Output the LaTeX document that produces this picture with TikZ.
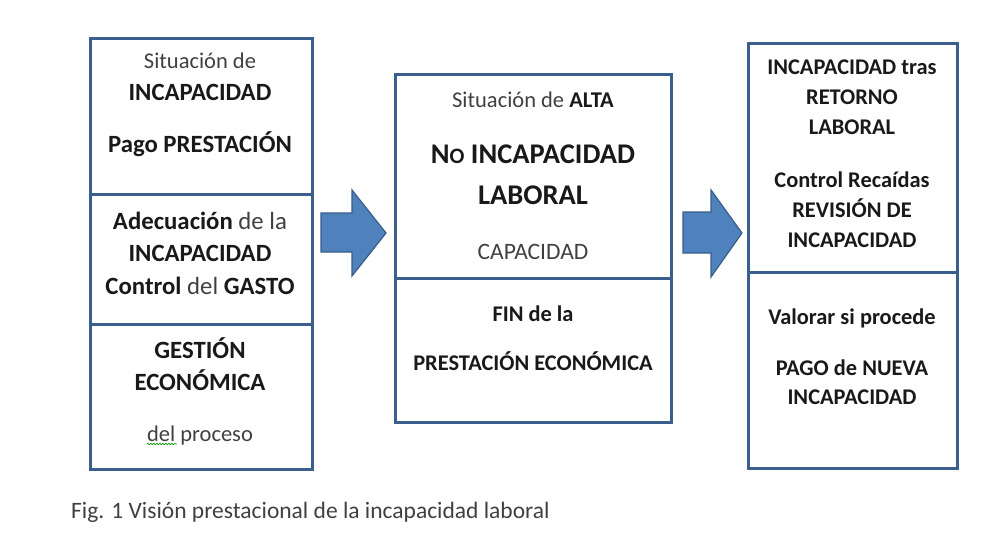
\documentclass[tikz,border=0pt]{standalone}
\usepackage{fontspec}
\setmainfont{Carlito}
\usetikzlibrary{decorations.pathmorphing}
\definecolor{boxblue}{RGB}{58,95,140}
\definecolor{arrowfill}{RGB}{79,129,189}
\definecolor{arrowline}{RGB}{56,93,138}
\definecolor{txtgray}{RGB}{64,64,64}
\newcommand{\rg}[1]{{\mdseries\color{txtgray}#1}}
\tikzset{
  cell/.style={draw=boxblue, line width=3pt},
  bigarrow/.style={fill=arrowfill, draw=arrowline, line width=1.2pt, line join=miter},
  line/.style={anchor=base, inner sep=0pt, text=black!90, font=\bfseries\fontsize{#1}{#1}\selectfont},
  line/.default=24.8,
  thin/.style={anchor=base, inner sep=0pt, text=txtgray, font=\fontsize{#1}{#1}\selectfont},
  thin/.default=22.5
}
\begin{document}
\begin{tikzpicture}[x=1pt,y=-1pt]
      \useasboundingbox (0,0) rectangle (989,551);

      % left box
      \draw[cell] (90,39) rectangle (312,469);
      \draw[cell] (90,194) -- (312,194);
      \draw[cell] (90,324) -- (312,324);
      \node[thin] (l1) at (200,69) {Situación de};
      \node[line] (l2) at (200,101) {INCAPACIDAD};
      \node[line] (l3) at (200,152) {Pago PRESTACIÓN};
      \node[line] (l4) at (200,229) {Adecuación \rg{de la}};
      \node[line] (l5) at (200,261) {INCAPACIDAD};
      \node[line] (l6) at (200,294) {Control \rg{del} GASTO};
      \node[line] (l7) at (200,358) {GESTIÓN};
      \node[line] (l8) at (200,390) {ECONÓMICA};
      \node[thin] (l9) at (200,441) {del proceso};
      \draw[green!60!black, line width=0.6pt, decoration={snake, amplitude=0.8pt, segment length=3pt}, decorate]
        (l9.base west) ++(0,3) -- ++(30,0);

      % middle box
      \draw[cell] (395,75) rectangle (671,422);
      \draw[cell] (395,278) -- (671,278);
      \node[thin] (m1) at (533,107) {Situación de \textbf{\color{black!90}ALTA}};
      \node[line=28.5] (m2) at (533,164) {N{\fontsize{22}{22}\selectfont O} INCAPACIDAD};
      \node[line=28.5] (m3) at (533,204) {LABORAL};
      \node[thin=23.5] (m4) at (533,259) {CAPACIDAD};
      \node[line=22.4] (m5) at (533,321) {FIN de la};
      \node[line=22.4] (m6) at (533,370) {PRESTACIÓN ECONÓMICA};

      % right box
      \draw[cell] (748,44) rectangle (957,468);
      \draw[cell] (748,272) -- (957,272);
      \node[line=22.4] (r1) at (852,75) {INCAPACIDAD tras};
      \node[line=22.4] (r2) at (852,104) {RETORNO};
      \node[line=22.4] (r3) at (852,135) {LABORAL};
      \node[line=22.4] (r4) at (852,187) {Control Recaídas};
      \node[line=22.4] (r5) at (852,217) {REVISIÓN DE};
      \node[line=22.4] (r6) at (852,247) {INCAPACIDAD};
      \node[line=22.4] (r7) at (852,324) {Valorar si procede};
      \node[line=22.4] (r8) at (852,375) {PAGO de NUEVA};
      \node[line=22.4] (r9) at (852,404) {INCAPACIDAD};

      % arrows
      \draw[bigarrow] (321,213) -- (352,213) -- (352,190) -- (386,233)
        -- (352,276) -- (352,252) -- (321,252) -- cycle;
      \draw[bigarrow] (683,212) -- (711,212) -- (711,190) -- (742,233)
        -- (711,277) -- (711,253) -- (683,253) -- cycle;

      % caption
      \node[thin=23.5, anchor=base west] (cap) at (71,518) {Fig. 1 Visión prestacional de la incapacidad laboral};
    \end{tikzpicture}
\end{document}
